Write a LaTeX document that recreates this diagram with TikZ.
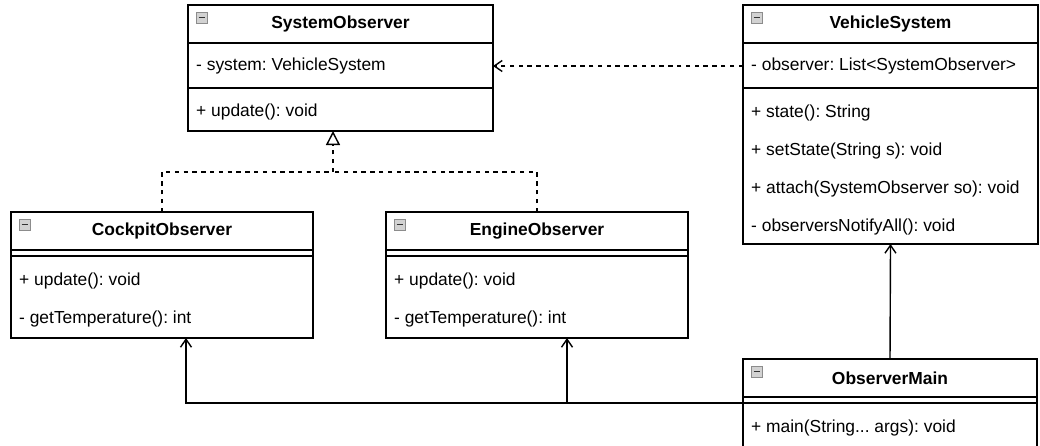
\documentclass[tikz,border=0pt]{standalone}
\usepackage{fontspec}
\setmainfont{Liberation Sans}
\usetikzlibrary{arrows.meta}
\frenchspacing
\begin{document}
\begin{tikzpicture}[x=1pt,y=-1pt,
  every node/.style={font=\fontsize{17.4}{20}\selectfont},
  classbox/.style={draw, line width=1.4pt, rectangle, anchor=north west, inner sep=0pt, outer sep=0pt},
  sepline/.style={line width=1.4pt},
  title/.style={font=\fontsize{17.4}{20}\selectfont\bfseries, inner sep=0pt, anchor=center},
  row/.style={inner sep=0pt, anchor=west},
  icon/.style={draw=gray!90, fill=gray!35, line width=0.8pt},
  iconbar/.style={line width=1.6pt, black!80},
  dashline/.style={line width=1.4pt, dash pattern=on 4.4pt off 4.4pt},
  assoc/.style={line width=1.4pt, -{Straight Barb[length=8pt,width=11pt,line width=1.4pt]}},
  dep/.style={dashline, -{Straight Barb[length=8pt,width=11pt,line width=1.4pt]}},
  real/.style={dashline, -{Triangle[open,length=14pt,width=14pt,line width=1.4pt]}}
]
\useasboundingbox (0,0) rectangle (1040,445);
\fill[white] (0,0) rectangle (1040,445);

% ---------- SystemObserver ----------
\node[classbox, minimum width=305pt, minimum height=126pt] (so) at (188,5) {};
\draw[icon] (196,12) rectangle (207,23);
\draw[iconbar] (198.5,17.5) -- (204.5,17.5);
\node[title] (sot) at (340.5,24) {SystemObserver};
\draw[sepline] (188,43) -- (493,43);
\node[row] (soa) at (196,66) {- system: VehicleSystem};
\draw[sepline] (188,88) -- (493,88);
\node[row] (som) at (196,112) {+ update(): void};

% ---------- VehicleSystem ----------
\node[classbox, minimum width=295pt, minimum height=239pt] (vs) at (743,5) {};
\draw[icon] (751,12) rectangle (762,23);
\draw[iconbar] (753.5,17.5) -- (759.5,17.5);
\node[title] (vst) at (890.5,24) {VehicleSystem};
\draw[sepline] (743,43) -- (1038,43);
\node[row] (vsa) at (751,66) {- observer: List<SystemObserver>};
\draw[sepline] (743,88) -- (1038,88);
\node[row] (vsm1) at (751,113) {+ state(): String};
\node[row] (vsm2) at (751,151) {+ setState(String s): void};
\node[row] (vsm3) at (751,189) {+ attach(SystemObserver so): void};
\node[row] (vsm4) at (751,227) {- observersNotifyAll(): void};

% ---------- CockpitObserver ----------
\node[classbox, minimum width=302pt, minimum height=126pt] (co) at (11,212) {};
\draw[icon] (19,219) rectangle (30,230);
\draw[iconbar] (21.5,224.5) -- (27.5,224.5);
\node[title] (cot) at (162,231) {CockpitObserver};
\draw[sepline] (11,250) -- (313,250);
\draw[sepline] (11,256) -- (313,256);
\node[row] (com1) at (19,281) {+ update(): void};
\node[row] (com2) at (19,319) {- getTemperature(): int};

% ---------- EngineObserver ----------
\node[classbox, minimum width=302pt, minimum height=126pt] (eo) at (386,212) {};
\draw[icon] (394,219) rectangle (405,230);
\draw[iconbar] (396.5,224.5) -- (402.5,224.5);
\node[title] (eot) at (537,231) {EngineObserver};
\draw[sepline] (386,250) -- (688,250);
\draw[sepline] (386,256) -- (688,256);
\node[row] (eom1) at (394,281) {+ update(): void};
\node[row] (eom2) at (394,319) {- getTemperature(): int};

% ---------- ObserverMain ----------
\node[classbox, minimum width=294pt, minimum height=88pt] (om) at (743,359) {};
\draw[icon] (751,366) rectangle (762,377);
\draw[iconbar] (753.5,371.5) -- (759.5,371.5);
\node[title] (omt) at (890,378) {ObserverMain};
\draw[sepline] (743,397) -- (1037,397);
\draw[sepline] (743,403) -- (1037,403);
\node[row] (omm) at (751,428) {+ main(String... args): void};

% ---------- connectors ----------
% dependency VehicleSystem -> SystemObserver
\draw[dep] (vs.west |- vsa) -- (so.east |- vsa);

% realization
\coordinate (rj) at (333,172);
\draw[dashline] (co.north) |- (rj);
\draw[dashline] (eo.north) |- (rj);
\draw[real] (rj) -- (rj |- so.south);

% ObserverMain -> VehicleSystem
\draw[assoc] (om.north) -- (vs.south);

% ObserverMain -> CockpitObserver / EngineObserver
\coordinate (oms) at (743,403);
\coordinate (cend) at ([xshift=24pt]co.south);
\coordinate (eend) at ([xshift=30pt]eo.south);
\draw[assoc] (oms) -| (cend);
\draw[assoc] (eend |- oms) -- (eend);
\end{tikzpicture}
\end{document}
